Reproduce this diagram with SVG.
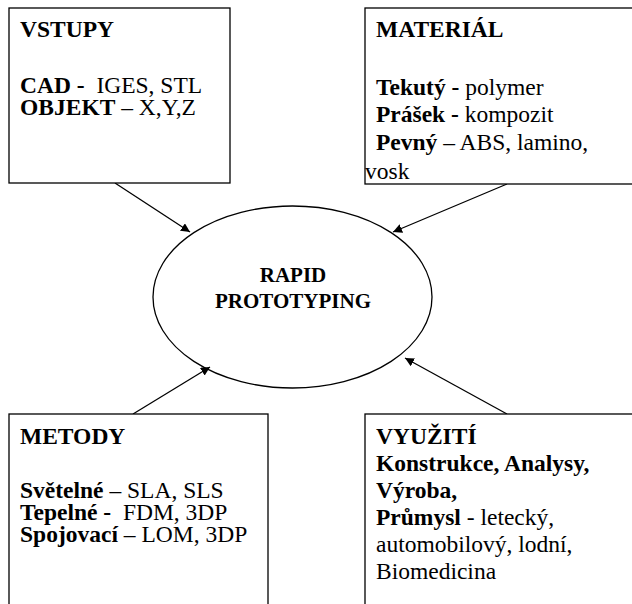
<svg xmlns="http://www.w3.org/2000/svg" width="632" height="604" viewBox="0 0 632 604">
<defs>
<marker id="ah" viewBox="0 0 10 10" refX="10" refY="5" markerWidth="9" markerHeight="9" markerUnits="userSpaceOnUse" orient="auto">
<path d="M0,0 L10,5 L0,10 z" fill="#000"/>
</marker>
</defs>
<rect width="632" height="604" fill="#fff"/>
<g id="connectors" stroke="#000" stroke-width="1.3" fill="none" marker-end="url(#ah)">
<line x1="115" y1="183" x2="190" y2="232"/>
<line x1="507" y1="184" x2="393" y2="232"/>
<line x1="133" y1="414" x2="210" y2="367"/>
<line x1="507" y1="414" x2="405" y2="358"/>
</g>
<g id="center">
<ellipse cx="292.5" cy="297" rx="139.5" ry="91" fill="none" stroke="#000" stroke-width="1.3"/>
<text x="293" y="282" font-family="Times New Roman, Liberation Serif, serif" font-size="21" font-weight="bold" text-anchor="middle">RAPID</text>
<text x="293" y="308" font-family="Times New Roman, Liberation Serif, serif" font-size="21" font-weight="bold" text-anchor="middle">PROTOTYPING</text>
</g>
<g id="vstupy">
<rect x="9" y="8" width="221" height="175" fill="#fff" stroke="#000" stroke-width="1.3"/>
<text x="20" y="37" font-family="Times New Roman, Liberation Serif, serif" font-size="23.5" font-weight="bold">VSTUPY</text>
<text x="20" y="93" font-family="Times New Roman, Liberation Serif, serif" font-size="23.5" xml:space="preserve"><tspan font-weight="bold">CAD - </tspan> IGES, STL</text>
<text x="20" y="115" font-family="Times New Roman, Liberation Serif, serif" font-size="23.5"><tspan font-weight="bold">OBJEKT</tspan> – X,Y,Z</text>
</g>
<g id="material">
<rect x="365" y="8" width="280" height="176" fill="#fff" stroke="#000" stroke-width="1.3"/>
<text x="376" y="37" font-family="Times New Roman, Liberation Serif, serif" font-size="23.5" font-weight="bold">MATERIÁL</text>
<text x="376" y="95" font-family="Times New Roman, Liberation Serif, serif" font-size="23.5"><tspan font-weight="bold">Tekutý -</tspan> polymer</text>
<text x="376" y="122" font-family="Times New Roman, Liberation Serif, serif" font-size="23.5"><tspan font-weight="bold">Prášek -</tspan> kompozit</text>
<text x="376" y="150" font-family="Times New Roman, Liberation Serif, serif" font-size="23.5"><tspan font-weight="bold">Pevný</tspan> – ABS, lamino,</text>
<text x="365" y="179" font-family="Times New Roman, Liberation Serif, serif" font-size="23.5">vosk</text>
</g>
<g id="metody">
<rect x="9" y="414" width="259" height="200" fill="#fff" stroke="#000" stroke-width="1.3"/>
<text x="20" y="444" font-family="Times New Roman, Liberation Serif, serif" font-size="23.5" font-weight="bold">METODY</text>
<text x="20" y="498" font-family="Times New Roman, Liberation Serif, serif" font-size="23.5"><tspan font-weight="bold">Světelné</tspan> – SLA, SLS</text>
<text x="20" y="520" font-family="Times New Roman, Liberation Serif, serif" font-size="23.5" xml:space="preserve"><tspan font-weight="bold">Tepelné - </tspan> FDM, 3DP</text>
<text x="20" y="542" font-family="Times New Roman, Liberation Serif, serif" font-size="23.5"><tspan font-weight="bold">Spojovací</tspan> – LOM, 3DP</text>
</g>
<g id="vyuziti">
<rect x="365" y="414" width="280" height="200" fill="#fff" stroke="#000" stroke-width="1.3"/>
<text x="376" y="444" font-family="Times New Roman, Liberation Serif, serif" font-size="23.5" font-weight="bold">VYUŽITÍ</text>
<text x="376" y="471" font-family="Times New Roman, Liberation Serif, serif" font-size="23.5" font-weight="bold">Konstrukce, Analysy,</text>
<text x="376" y="498" font-family="Times New Roman, Liberation Serif, serif" font-size="23.5" font-weight="bold">Výroba,</text>
<text x="376" y="525" font-family="Times New Roman, Liberation Serif, serif" font-size="23.5"><tspan font-weight="bold">Průmysl</tspan> - letecký,</text>
<text x="376" y="552" font-family="Times New Roman, Liberation Serif, serif" font-size="23.5">automobilový, lodní,</text>
<text x="376" y="579" font-family="Times New Roman, Liberation Serif, serif" font-size="23.5">Biomedicina</text>
</g>
</svg>
